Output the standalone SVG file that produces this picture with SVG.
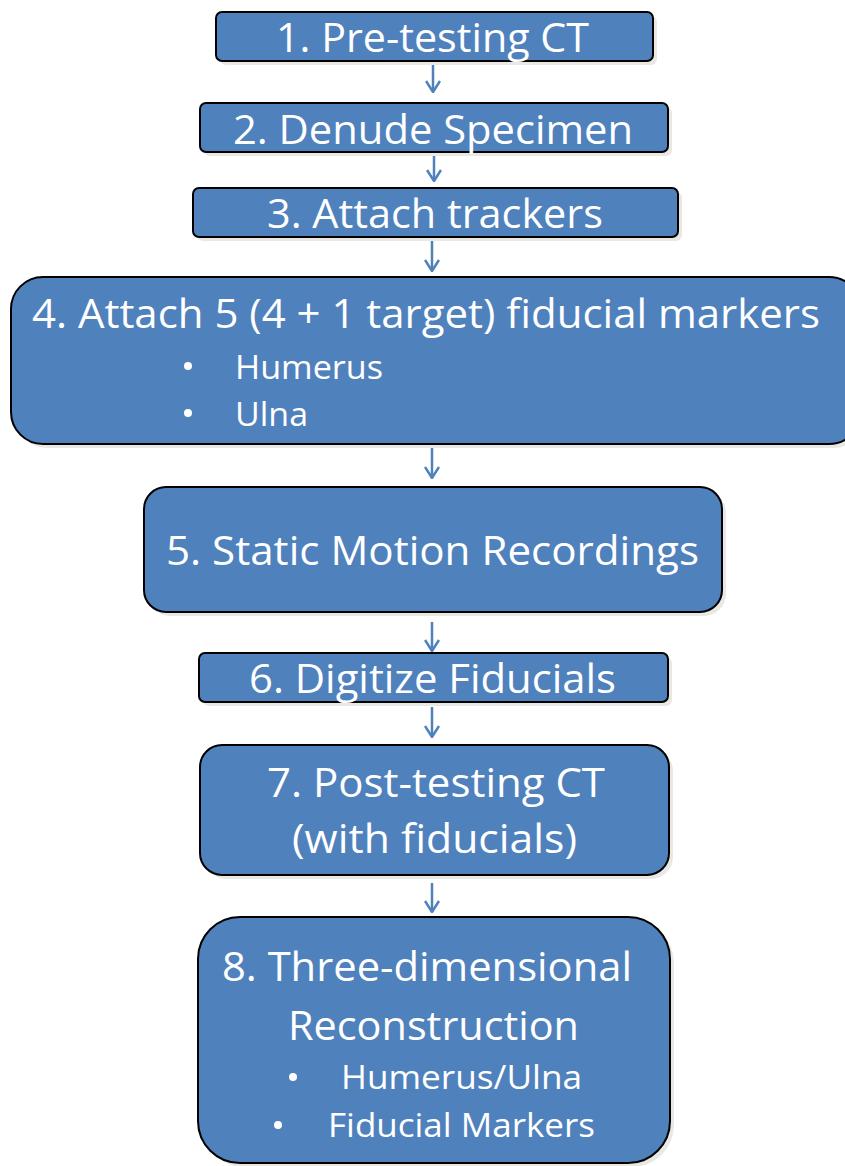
<svg xmlns="http://www.w3.org/2000/svg" width="845" height="1166" viewBox="0 0 845 1166">
<defs>
<style>
.box{fill:#4F81BD;stroke:#000;stroke-width:2}
.sh{fill:#e9e8e2}
.t{font-family:"Open Sans","Liberation Sans",sans-serif;fill:#fff;font-size:41px}
.s{font-family:"Open Sans","Liberation Sans",sans-serif;fill:#fff;font-size:33px}
.b{fill:#fff}
.ar{stroke:#4F81BD;stroke-width:2.5;fill:none}
</style>
<marker id="ah" viewBox="0 0 16 16" refX="15" refY="8" markerWidth="16" markerHeight="16" markerUnits="userSpaceOnUse" orient="auto">
<polyline points="4,1 15,8 4,15" fill="none" stroke="#4F81BD" stroke-width="2.5"/>
</marker>
</defs>
<rect width="845" height="1166" fill="#fff"/>
<g id="connectors">
<line class="ar" x1="433" y1="64" x2="433" y2="92" marker-end="url(#ah)"/>
<line class="ar" x1="434" y1="152" x2="434" y2="181" marker-end="url(#ah)"/>
<line class="ar" x1="432" y1="238" x2="432" y2="271" marker-end="url(#ah)"/>
<line class="ar" x1="432" y1="448" x2="432" y2="478" marker-end="url(#ah)"/>
<line class="ar" x1="432" y1="622" x2="432" y2="651" marker-end="url(#ah)"/>
<line class="ar" x1="432" y1="707" x2="432" y2="737" marker-end="url(#ah)"/>
<line class="ar" x1="432" y1="883" x2="432" y2="912" marker-end="url(#ah)"/>
</g>
<g id="node1">
<rect class="sh" x="220" y="16" width="437" height="49" rx="6"/>
<rect class="box" x="216" y="12" width="437" height="49" rx="6"/>
<text class="t" x="276" y="52" textLength="313" lengthAdjust="spacingAndGlyphs">1. Pre-testing CT</text>
</g>
<g id="node2">
<rect class="sh" x="204" y="107" width="468" height="49" rx="6"/>
<rect class="box" x="200" y="103" width="468" height="49" rx="6"/>
<text class="t" x="233" y="144" textLength="400" lengthAdjust="spacingAndGlyphs">2. Denude Specimen</text>
</g>
<g id="node3">
<rect class="sh" x="197" y="192" width="485" height="49" rx="6"/>
<rect class="box" x="193" y="188" width="485" height="49" rx="6"/>
<text class="t" x="267" y="228" textLength="336" lengthAdjust="spacingAndGlyphs">3. Attach trackers</text>
</g>
<g id="node4">
<rect class="sh" x="15" y="281" width="850" height="167" rx="32"/>
<rect class="box" x="11" y="277" width="850" height="167" rx="32"/>
<text class="t" x="32" y="328" font-size="42" textLength="788" lengthAdjust="spacingAndGlyphs">4. Attach 5 (4 + 1 target) fiducial markers</text>
<circle class="b" cx="188" cy="366" r="4"/>
<text class="s" x="235" y="379" textLength="148" lengthAdjust="spacingAndGlyphs">Humerus</text>
<circle class="b" cx="188" cy="413" r="4"/>
<text class="s" x="235" y="426" textLength="73" lengthAdjust="spacingAndGlyphs">Ulna</text>
</g>
<g id="node5">
<rect class="sh" x="148" y="491" width="578" height="125" rx="22"/>
<rect class="box" x="144" y="487" width="578" height="125" rx="22"/>
<text class="t" x="166" y="565" font-size="42" textLength="533" lengthAdjust="spacingAndGlyphs">5. Static Motion Recordings</text>
</g>
<g id="node6">
<rect class="sh" x="203" y="657" width="469" height="49" rx="6"/>
<rect class="box" x="199" y="653" width="469" height="49" rx="6"/>
<text class="t" x="249" y="693" textLength="367" lengthAdjust="spacingAndGlyphs">6. Digitize Fiducials</text>
</g>
<g id="node7">
<rect class="sh" x="204" y="749" width="469" height="130" rx="22"/>
<rect class="box" x="200" y="745" width="469" height="130" rx="22"/>
<text class="t" x="267" y="797" textLength="338" lengthAdjust="spacingAndGlyphs">7. Post-testing CT</text>
<text class="t" x="292" y="853" textLength="285" lengthAdjust="spacingAndGlyphs">(with fiducials)</text>
</g>
<g id="node8">
<rect class="sh" x="202" y="921" width="472" height="246" rx="42"/>
<rect class="box" x="198" y="917" width="472" height="246" rx="42"/>
<text class="t" x="222" y="981" textLength="410" lengthAdjust="spacingAndGlyphs">8. Three-dimensional</text>
<text class="t" x="288" y="1040" textLength="291" lengthAdjust="spacingAndGlyphs">Reconstruction</text>
<circle class="b" cx="293" cy="1077" r="4"/>
<text class="s" x="341" y="1089" font-size="31" textLength="241" lengthAdjust="spacingAndGlyphs">Humerus/Ulna</text>
<circle class="b" cx="278" cy="1125" r="4"/>
<text class="s" x="328" y="1137" font-size="31" textLength="267" lengthAdjust="spacingAndGlyphs">Fiducial Markers</text>
</g>
</svg>
